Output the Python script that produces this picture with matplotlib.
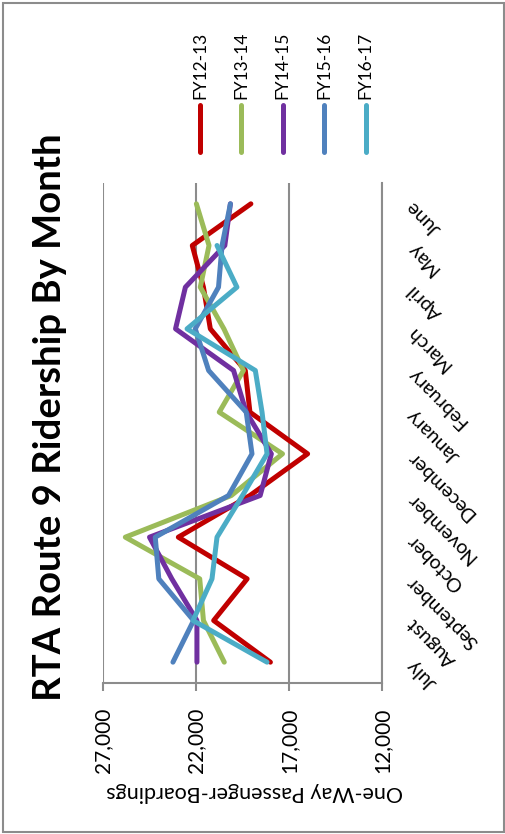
import matplotlib
matplotlib.use('Agg')
import matplotlib.pyplot as plt
import matplotlib.patches as mpatches
from matplotlib.lines import Line2D
import numpy as np

# %% data
months = ['July', 'August', 'September', 'October', 'November', 'December',
          'January', 'February', 'March', 'April', 'May', 'June']
fy12_13 = [18000, 21050, 19250, 22950, 19100, 16000, 19100, 19350, 21230, 21600, 22200, 19050]
fy13_14 = [20480, 21600, 21800, 25800, 20100, 17350, 20750, 19450, 20500, 21770, 21300, 21980]
fy14_15 = [21950, 21950, 23300, 24500, 18550, 17950, 19300, 19980, 23100, 22570, 20450, 20150]
fy15_16 = [23240, 22130, 24000, 24190, 20250, 18990, 19300, 21320, 22040, 20790, 20600, 20150]
fy16_17 = [18180, 22160, 21140, 20870, 19500, 18180, 18450, 18810, 22480, 19800, 20870, np.nan]
series_names = ['FY12-13', 'FY13-14', 'FY14-15', 'FY15-16', 'FY16-17']
series_colors = ['#C00000', '#9BBB59', '#7030A0', '#4F81BD', '#4BACC6']
value_ticks = [27000, 22000, 17000, 12000]

plt.rcParams['font.family'] = ['Lato', 'DejaVu Sans']
W, H = 506, 834
grey = '#8c8c8c'

fig = plt.figure(figsize=(W / 100, H / 100), dpi=100)
# chart is drawn turned a quarter turn: values run along x, months along y
ax = fig.add_axes([103 / W, 1 - 683 / H, (382 - 103) / W, 500 / H])

y = np.arange(len(months))
all_series = [fy12_13, fy13_14, fy14_15, fy15_16, fy16_17]
for vals, name, col in zip(all_series, series_names, series_colors):
    ax.plot(vals, y, color=col, lw=3.6, solid_capstyle='round',
            solid_joinstyle='round', label=name)

ax.set_xlim(27000, 12000)
ax.set_ylim(-0.5, 11.5)
ax.set_xticks(value_ticks)
ax.set_xticklabels([f'{t:,}' for t in value_ticks], rotation=90, fontsize=15)
ax.xaxis.grid(True, color=grey, lw=1.5)
ax.set_axisbelow(True)
ax.tick_params(axis='x', length=6, width=1.5, color=grey, pad=12)

ax.yaxis.tick_right()
ax.set_yticks(y)
ax.set_yticklabels(months, rotation=135, rotation_mode='anchor',
                   ha='right', va='center', fontsize=14)
ax.tick_params(axis='y', length=0, pad=20)

for s in ['left', 'top']:
    ax.spines[s].set_visible(False)
for s in ['bottom', 'right']:
    ax.spines[s].set_color(grey)
    ax.spines[s].set_linewidth(1.5)

fig.text(255 / W, 1 - 792 / H, 'One-Way Passenger-Boardings', rotation=180,
         ha='center', va='center', fontsize=15.5)
fig.text(50 / W, 1 - 417 / H, 'RTA Route 9 Ridership By Month', rotation=90,
         ha='center', va='center', fontsize=27.5, fontweight='bold')

# legend laid out vertically along the top
for i, (name, col) in enumerate(zip(series_names, series_colors)):
    lx = (200 + 41.4 * i) / W
    fig.add_artist(Line2D([lx, lx], [1 - 105 / H, 1 - 152 / H], color=col,
                          lw=3.6, solid_capstyle='round'))
    fig.text(lx, 1 - 99 / H, name, rotation=90, ha='center', va='bottom',
             fontsize=12.5)

fig.add_artist(mpatches.Rectangle((3 / W, 2 / H), 501 / W, 829 / H, fill=False,
                                  edgecolor=grey, lw=1.5, transform=fig.transFigure))

fig.savefig('out.png', dpi=100)
plt.close()
